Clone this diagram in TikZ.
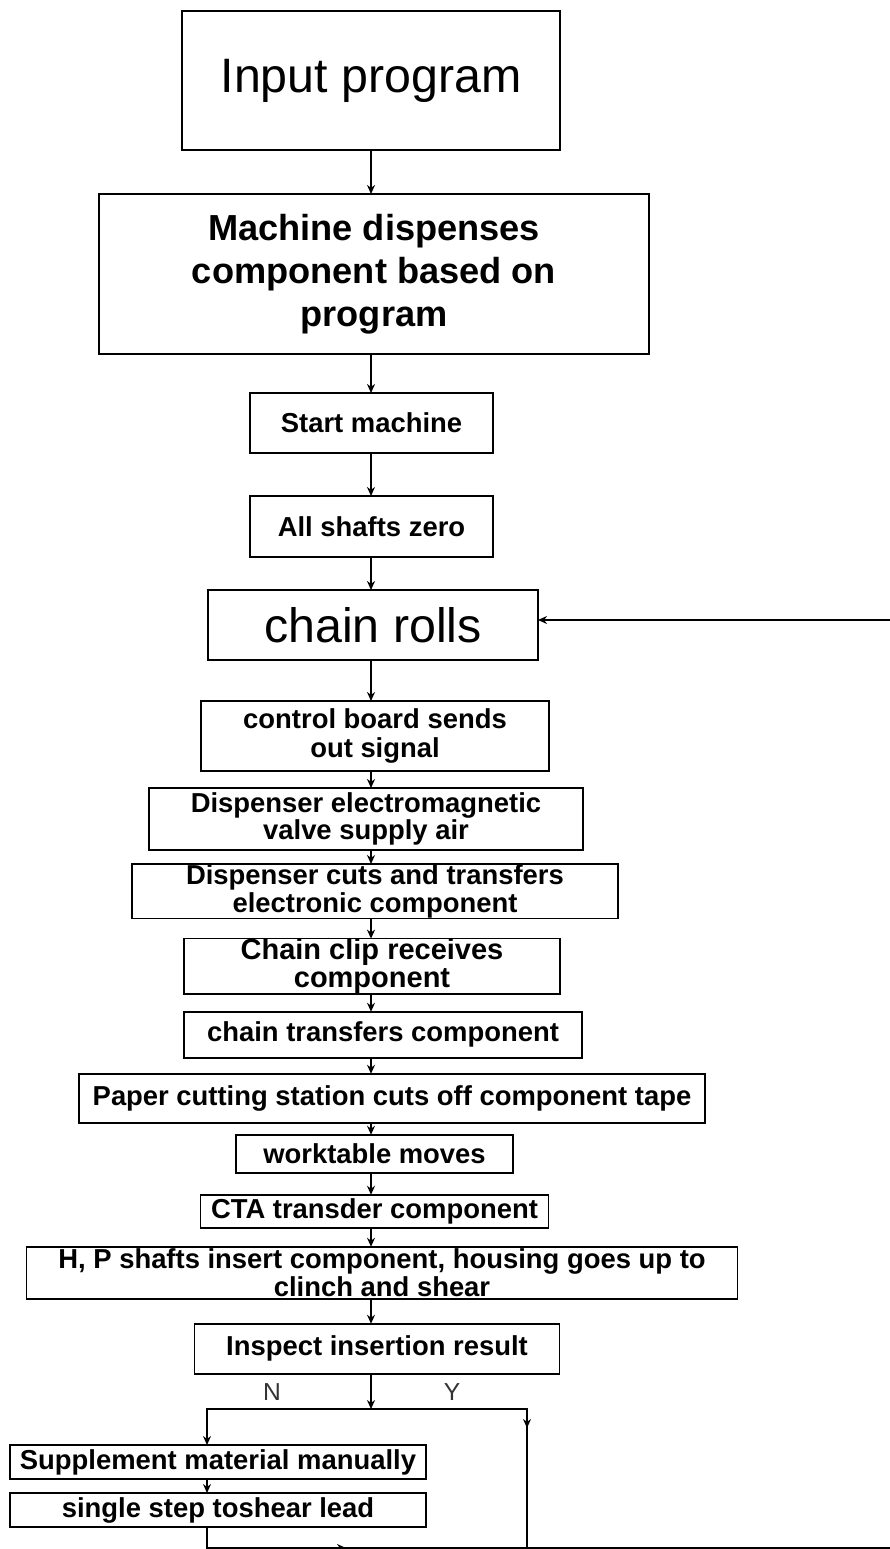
\documentclass[tikz,border=0pt]{standalone}
\usepackage{fontspec}
\setmainfont{Liberation Sans}
\usetikzlibrary{arrows.meta, positioning, decorations.markings}

\begin{document}
\begin{tikzpicture}[
  box/.style={rectangle, draw, line width=0.9pt, inner sep=0.5pt, outer sep=0pt, align=center, font=\fontsize{15.6}{14}\selectfont\bfseries},
  bigbox/.style={box, font=\fontsize{27.5}{30}\selectfont},
  arrow/.style={-{Stealth[length=1.8mm, width=1.6mm]}, line width=1.2pt},
  line/.style={line width=1.2pt},
  midarrow/.style={postaction={decorate}, decoration={markings, mark=at position #1 with {\arrow{Stealth[length=1.8mm, width=1.6mm]}}}},
  lbl/.style={font=\fontsize{14}{16}\selectfont, text=black!80}
]
\useasboundingbox (0,0) rectangle (17.78,-30.98);

% NODES
\node[bigbox, minimum width=75.6mm, minimum height=27.8mm] (input) at (7.42,-1.61) {Input program};
\node[box, font=\fontsize{20.6}{24.4}\selectfont\bfseries, minimum width=110mm, minimum height=32mm, below=8.8mm of input, xshift=0.6mm] (dispense) {Machine dispenses\\component based on\\program};
\node[box, minimum width=48.6mm, minimum height=12mm, below=7.8mm of dispense, xshift=-0.5mm] (start) {Start machine};
\node[box, minimum width=48.6mm, minimum height=12.2mm, below=8.6mm of start] (zero) {All shafts zero};
\node[bigbox, minimum width=66mm, minimum height=14mm, below=6.6mm of zero, xshift=0.3mm] (rolls) {chain rolls};
\node[box, font=\fontsize{15.6}{17}\selectfont\bfseries, minimum width=69.6mm, minimum height=14mm, below=8.2mm of rolls, xshift=0.4mm] (signal) {control board sends\\out signal};
\node[box, minimum width=86.8mm, minimum height=12.4mm, below=3.4mm of signal, xshift=-1.8mm] (valve) {Dispenser electromagnetic\\valve supply air};
\node[box, font=\fontsize{15.6}{13.4}\selectfont\bfseries, minimum width=97.2mm, minimum height=10mm, below=2.8mm of valve, xshift=1.8mm] (cuts) {Dispenser cuts and transfers\\electronic component};
\node[box, font=\fontsize{16.5}{16}\selectfont\bfseries, minimum width=75.2mm, minimum height=10.8mm, inner sep=0pt, below=4mm of cuts, xshift=-0.6mm] (clip) {Chain clip receives\\component};
\node[box, minimum width=79.6mm, minimum height=9.2mm, below=3.6mm of clip, xshift=2.2mm] (transfer) {chain transfers component};
\node[box, minimum width=125.2mm, minimum height=9.8mm, below=3.2mm of transfer, xshift=1.8mm] (paper) {Paper cutting station cuts off component tape};
\node[box, minimum width=55.4mm, minimum height=7.6mm, below=2.4mm of paper, xshift=-3.5mm] (table) {worktable moves};
\node[box, minimum width=69.6mm, minimum height=6.6mm, below=4.4mm of table] (cta) {CTA transder component};
\node[box, minimum width=142.2mm, minimum height=10.4mm, below=3.8mm of cta, xshift=1.5mm] (insert) {H, P shafts insert component, housing goes up to\\clinch and shear};
\node[box, minimum width=73mm, minimum height=10mm, below=5mm of insert, xshift=-1mm] (inspect) {Inspect insertion result};
\node[box, minimum width=83.2mm, minimum height=6.8mm] (supplement) at (4.36,-29.24) {Supplement material manually};
\node[box, minimum width=83.2mm, minimum height=6.8mm, below=2.8mm of supplement] (single) {single step toshear lead};

% BRANCH POINTS
\coordinate (spine) at (input.south);
\coordinate (split) at (7.42,-28.18);
\coordinate (ncol) at ([xshift=-2.2mm]supplement.north);
\coordinate (ycol) at ([xshift=31.2mm]split);
\coordinate (loopb) at (17.85,-30.96);
\coordinate (ybot) at (ycol |- loopb);

% FLOW
\draw[arrow] (input.south -| spine) -- (dispense.north -| spine);
\draw[arrow] (dispense.south -| spine) -- (start.north -| spine);
\draw[arrow] (start.south -| spine) -- (zero.north -| spine);
\draw[arrow] (zero.south -| spine) -- (rolls.north -| spine);
\draw[arrow] (rolls.south -| spine) -- (signal.north -| spine);
\draw[arrow] (signal.south -| spine) -- (valve.north -| spine);
\draw[arrow] (valve.south -| spine) -- (cuts.north -| spine);
\draw[arrow] (cuts.south -| spine) -- (clip.north -| spine);
\draw[arrow] (clip.south -| spine) -- (transfer.north -| spine);
\draw[arrow] (transfer.south -| spine) -- (paper.north -| spine);
\draw[arrow] (paper.south -| spine) -- (table.north -| spine);
\draw[arrow] (table.south -| spine) -- (cta.north -| spine);
\draw[arrow] (cta.south -| spine) -- (insert.north -| spine);
\draw[arrow] (insert.south -| spine) -- (inspect.north -| spine);
\draw[arrow] (inspect.south -| spine) -- (split);
\draw[arrow] (split) -| (ncol |- supplement.north);
\draw[arrow] (ncol |- supplement.south) -- (ncol |- single.north);
\draw[line, midarrow=3.5cm] (split) -| (ybot);
\draw[arrow, midarrow=3.2cm] (ncol |- single.south) |- (loopb) |- ([yshift=1mm]rolls.east);

% LABELS
\node[lbl] (nlabel) at ([shift={(-1.98,0.34)}]split) {N};
\node[lbl] (ylabel) at ([shift={(1.62,0.34)}]split) {Y};

\end{tikzpicture}
\end{document}
